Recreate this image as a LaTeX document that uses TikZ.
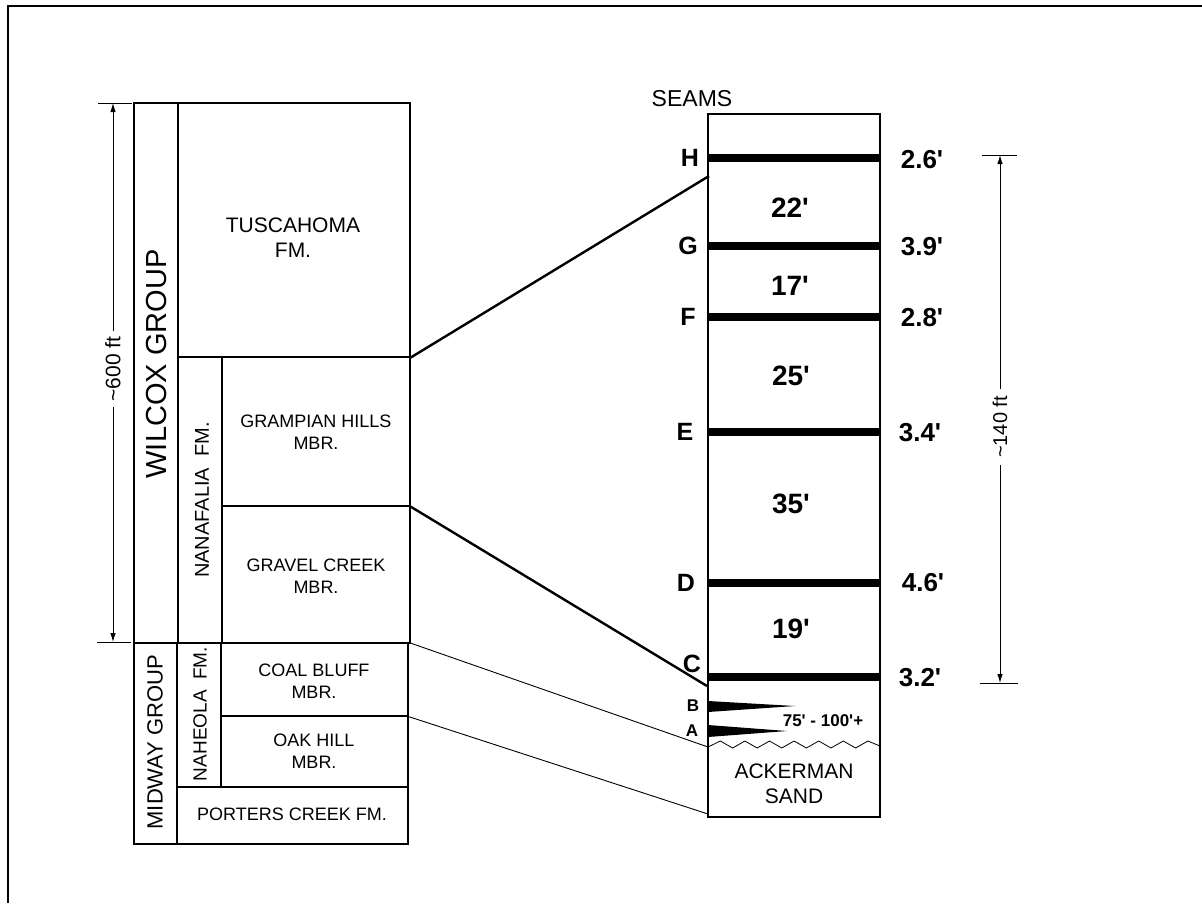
\documentclass[tikz,border=0pt]{standalone}
\usepackage{fontspec}
\setmainfont{Liberation Sans}
\usetikzlibrary{arrows.meta,fit}
\newcommand{\fsz}[2]{\fontsize{#1}{#2}\selectfont}
\newcommand{\pr}{\textquotesingle}
\begin{document}
\begin{tikzpicture}[x=1pt,y=-1pt,
  box/.style={draw, line width=1.2pt, inner sep=0pt},
  lbl/.style={inner sep=0pt, align=center, font=\fsz{18}{21.5}},
  big/.style={inner sep=0pt, align=center, font=\fsz{21}{25}},
  rot/.style={inner sep=0pt, rotate=90},
  seamlbl/.style={inner sep=0pt, font=\bfseries\fsz{25}{25}},
  thick lbl/.style={inner sep=0pt, font=\bfseries\fsz{26}{26}},
  intlbl/.style={inner sep=0pt, font=\bfseries\fsz{28}{28}},
  seambar/.style={fill=black},
  dimlbl/.style={inner sep=5pt, rotate=90, font=\fsz{21}{21}},
  dimarr/.style={line width=0.9pt, -{Latex[length=9pt,width=5.5pt]}},
  tick/.style={line width=0.8pt},
  corr/.style={line width=2.4pt},
  thin corr/.style={line width=0.9pt}
]
\useasboundingbox (0,0) rectangle (1202,903);
% page frame
\draw[line width=2.5pt] (8,903) -- (8,6) -- (1202,6);

% ---------- left column ----------
\node[box, fit={(134,103) (178,643)}] (wilcox) {};
\node[box, fit={(134,643) (177,844)}] (midway) {};
\node[box, fit={(178,103) (410,357)}] (tusc) {};
\node[box, fit={(178,357) (222,643)}] (nana) {};
\node[box, fit={(222,357) (410,506)}] (gramp) {};
\node[box, fit={(222,506) (410,643)}] (gravel) {};
\node[box, fit={(177,643) (221,787)}] (naheola) {};
\node[box, fit={(221,643) (408,716)}] (coal) {};
\node[box, fit={(221,716) (408,787)}] (oak) {};
\node[box, fit={(177,787) (408,844)}] (porters) {};

\node[rot, font=\fsz{29}{29}] (twil) at (157,364) {WILCOX GROUP};
\node[rot, font=\fsz{22}{22}] (tmid) at (155,742) {MIDWAY GROUP};
\node[big] (ttusc) at (293,238) {TUSCAHOMA\\FM.};
\node[rot, font=\fsz{20}{20}] (tnana) at (202,500) {NANAFALIA\ \ FM.};
\node[lbl] (tgramp) at (316,432) {GRAMPIAN HILLS\\MBR.};
\node[lbl] (tgravel) at (316,576) {GRAVEL CREEK\\MBR.};
\node[rot, font=\fsz{19}{19}] (tnah) at (200,714) {NAHEOLA\ \ FM.};
\node[lbl] (tcoal) at (314,681) {COAL BLUFF\\MBR.};
\node[lbl] (toak) at (314,751) {OAK HILL\\MBR.};
\node[lbl] (tport) at (292,814) {PORTERS CREEK FM.};

% ~600 ft dimension
\draw[tick] (98,103) -- (132,103);
\draw[tick] (97,642) -- (131,642);
\coordinate (t600) at (113,103);
\coordinate (b600) at (113,642);
\node[dimlbl] (l600) at (113,369) {\textasciitilde600 ft};
\draw[dimarr] (l600) -- (t600);
\draw[dimarr] (l600) -- (b600);

% ---------- right column ----------
\node[big, font=\fsz{23}{23}] (seams) at (692,99) {SEAMS};
\node[box, fit={(708,114) (880,817)}] (col) {};

\fill[seambar] (708,154) rectangle (880,162);
\fill[seambar] (708,242) rectangle (880,250);
\fill[seambar] (708,313) rectangle (880,321);
\fill[seambar] (708,428) rectangle (880,436);
\fill[seambar] (708,579) rectangle (880,587);
\fill[seambar] (708,673) rectangle (880,681);

\node[seamlbl] (sH) at (690,158) {H};
\node[seamlbl] (sG) at (688,246) {G};
\node[seamlbl] (sF) at (688,317) {F};
\node[seamlbl] (sE) at (685,432) {E};
\node[seamlbl] (sD) at (686,583) {D};
\node[seamlbl] (sC) at (692,664) {C};
\node[inner sep=0pt, font=\bfseries\fsz{17}{17}] (sB) at (693,706) {B};
\node[inner sep=0pt, font=\bfseries\fsz{17}{17}] (sA) at (692,731) {A};

\node[thick lbl] (hH) at (922,160) {2.6\pr};
\node[thick lbl] (hG) at (922,247) {3.9\pr};
\node[thick lbl] (hF) at (922,318) {2.8\pr};
\node[thick lbl] (hE) at (920,433) {3.4\pr};
\node[thick lbl] (hD) at (923,583) {4.6\pr};
\node[thick lbl] (hC) at (920,678) {3.2\pr};

\node[intlbl] (i22) at (790,208) {22\pr};
\node[intlbl] (i17) at (790,286) {17\pr};
\node[intlbl] (i25) at (791,376) {25\pr};
\node[intlbl] (i35) at (791,504) {35\pr};
\node[intlbl] (i19) at (791,629) {19\pr};

% thin seams B and A
\fill (708,701) -- (795,706) -- (708,712) -- cycle;
\fill (708,725) -- (787,731) -- (708,737) -- cycle;
\node[inner sep=0pt, font=\bfseries\fsz{17}{17}] (range) at (823,721) {75\pr{} - 100\pr+};

% unconformity
\draw[line width=0.8pt] (708,747) -- (720.3,741) -- (732.6,748) -- (744.9,741) -- (757.2,748)
  -- (769.5,741) -- (781.8,748) -- (794.1,741) -- (806.4,748) -- (818.7,741) -- (831,748)
  -- (843.3,741) -- (855.6,748) -- (867.9,741) -- (880,746);

\node[big] (ack) at (794,784) {ACKERMAN\\SAND};

% ~140 ft dimension
\draw[tick] (982,155) -- (1017,155);
\draw[tick] (980,683) -- (1018,683);
\coordinate (t140) at (1000,155);
\coordinate (b140) at (1000,683);
\node[dimlbl, inner sep=7pt, font=\fsz{20}{20}] (l140) at (1000,427) {\textasciitilde140 ft};
\draw[dimarr] (l140) -- (t140);
\draw[dimarr] (l140) -- (b140);

% ---------- correlation lines ----------
\coordinate (rH) at (709,176);
\coordinate (rC) at (707,686);
\coordinate (rZ) at (708,747);
\coordinate (rB) at (708,814);
\draw[corr] (tusc.south east) -- (rH);
\draw[corr] (gramp.south east) -- (rC);
\draw[thin corr] (coal.north east) -- (rZ);
\draw[thin corr] (coal.south east) -- (rB);
\end{tikzpicture}
\end{document}
